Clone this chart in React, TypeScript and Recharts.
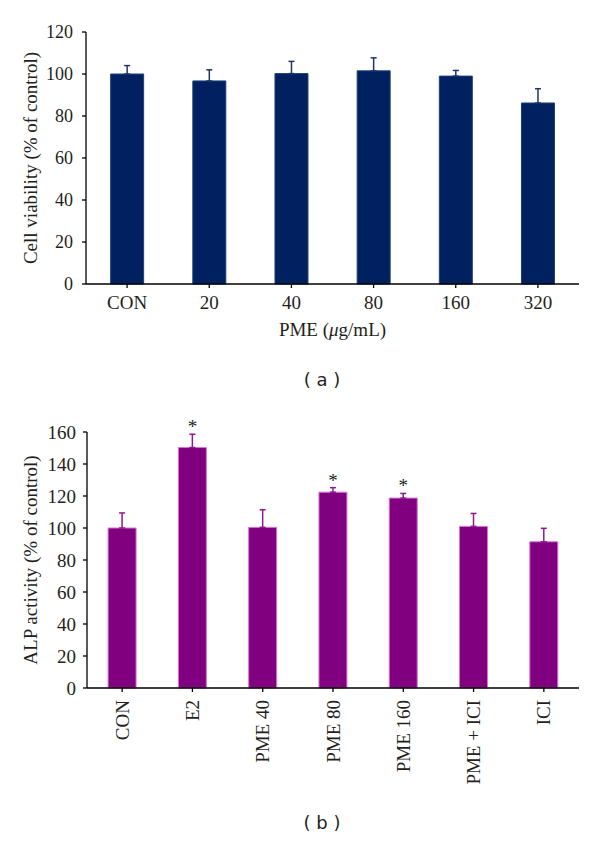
import React from 'react';
import { ComposedChart, Bar, ErrorBar, Scatter, XAxis, YAxis, Label } from 'recharts';

// panel (a) - cell viability
const doseLabels = ['CON', '20', '40', '80', '160', '320'];
const viability = [100, 96.7, 100.2, 101.5, 99, 86.2];
const viabilityErr = [4, 5.3, 5.8, 6.2, 2.7, 6.8];
const viabilityTicks = [0, 20, 40, 60, 80, 100, 120];

// panel (b) - ALP activity
const alpGroups = ['CON', 'E2', 'PME 40', 'PME 80', 'PME 160', 'PME + ICI', 'ICI'];
const alpActivity = [100, 150.3, 100.4, 122.4, 118.7, 101, 91.4];
const alpErr = [9.4, 8.3, 11, 2.8, 2.9, 8.1, 8.4];
const alpSignificant = [false, true, false, true, true, false, false];
const alpTicks = [0, 20, 40, 60, 80, 100, 120, 140, 160];

const SERIF = '"Liberation Serif", "Times New Roman", serif';
const SANS = '"DejaVu Sans", Verdana, sans-serif';
const TEXT = '#231f20';

const dataA = doseLabels.map((name, i) => ({
  name,
  value: viability[i],
  err: [0, viabilityErr[i]],
}));

const dataB = alpGroups.map((name, i) => ({
  name,
  value: alpActivity[i],
  err: [0, alpErr[i]],
  star: alpSignificant[i] ? alpActivity[i] + alpErr[i] : null,
}));

const yTitle = (text: string) => (props: any) => {
  const vb = props.viewBox || {};
  const cy = vb.y != null ? vb.y + vb.height / 2 : 158;
  return (
    <text x={30} y={cy} transform={`rotate(-90, 30, ${cy})`} textAnchor="middle" dominantBaseline="central"
      fontFamily={SERIF} fontSize={19} fill={TEXT}>
      {text}
    </text>
  );
};

const xTitleA = (props: any) => {
  const vb = props.viewBox || {};
  const cx = vb.x != null ? vb.x + vb.width / 2 : 332;
  const y = vb.y != null ? vb.y + 52 : 336;
  return (
    <text x={cx} y={y} textAnchor="middle" fontFamily={SERIF} fontSize={19} fill={TEXT}>
      PME (<tspan fontStyle="italic">μ</tspan>g/mL)
    </text>
  );
};

const RotatedTick = (props: any) => {
  const { x, y, payload } = props;
  return (
    <text x={x} y={y} transform={`rotate(-90, ${x}, ${y})`} textAnchor="end" dy="0.35em"
      fontFamily={SERIF} fontSize={19} fill={TEXT}>
      {payload.value}
    </text>
  );
};

const Star = (props: any) => {
  const { cx, cy, payload } = props;
  if (payload == null || payload.star == null || !Number.isFinite(cy)) return <g />;
  return (
    <text x={cx} y={cy - 1} textAnchor="middle" fontFamily={SERIF} fontSize={19} fill={TEXT}>
      *
    </text>
  );
};

const caption: React.CSSProperties = {
  position: 'absolute',
  left: 272,
  width: 100,
  textAlign: 'center',
  fontFamily: SANS,
  fontSize: 18,
  lineHeight: '20px',
  color: TEXT,
};

const axisProps = {
  axisLine: { stroke: '#000', strokeWidth: 1.3 },
  tickLine: { stroke: '#000', strokeWidth: 1.3 },
  tickSize: 4,
};

export default function App() {
  return (
    <div style={{ position: 'absolute', left: 0, top: 0, width: 600, height: 841, background: '#fff' }}>
      <div style={{ position: 'absolute', left: 0, top: 0 }}>
        <ComposedChart width={600} height={384} data={dataA} barCategoryGap="30%"
          margin={{ top: 32, right: 21, bottom: 0, left: 0 }}>
          <XAxis dataKey="name" height={100} interval={0} tickMargin={8} {...axisProps}
            tick={{ fontFamily: SERIF, fontSize: 19, fill: TEXT }}>
            <Label content={xTitleA} />
          </XAxis>
          <YAxis width={86} domain={[0, 120]} ticks={viabilityTicks} interval={0} tickMargin={9} {...axisProps}
            tick={{ fontFamily: SERIF, fontSize: 18, fill: TEXT }}>
            <Label content={yTitle('Cell viability (% of control)')} />
          </YAxis>
          <Bar dataKey="value" fill="#002060" stroke="#203f7a" strokeWidth={1} isAnimationActive={false}>
            <ErrorBar dataKey="err" direction="y" width={3} stroke="#1f3566" strokeWidth={1.5} />
          </Bar>
        </ComposedChart>
      </div>
      <div style={{ ...caption, top: 370 }}>( a )</div>

      <div style={{ position: 'absolute', left: 0, top: 400 }}>
        <ComposedChart width={600} height={400} data={dataB} barCategoryGap="30%"
          margin={{ top: 32, right: 21, bottom: 0, left: 0 }}>
          <XAxis dataKey="name" height={112} interval={0} tickMargin={8} {...axisProps} tick={<RotatedTick />} />
          <YAxis width={87} domain={[0, 160]} ticks={alpTicks} interval={0} tickMargin={7} {...axisProps}
            tick={{ fontFamily: SERIF, fontSize: 19, fill: TEXT }}>
            <Label content={yTitle('ALP activity (% of control)')} />
          </YAxis>
          <Bar dataKey="value" fill="#800080" stroke="#d27ad2" strokeWidth={1} isAnimationActive={false}>
            <ErrorBar dataKey="err" direction="y" width={3} stroke="#8b1a8b" strokeWidth={1.5} />
          </Bar>
          <Scatter dataKey="star" shape={<Star />} isAnimationActive={false} />
        </ComposedChart>
      </div>
      <div style={{ ...caption, top: 813 }}>( b )</div>
    </div>
  );
}
